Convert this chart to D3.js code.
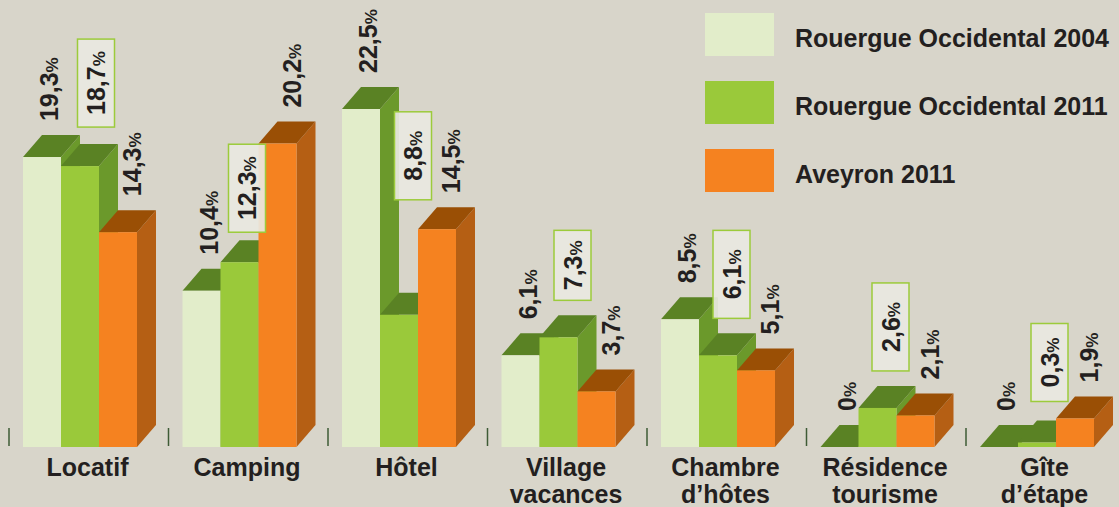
<!DOCTYPE html>
<html>
<head>
<meta charset="utf-8">
<script src="https://cdn.jsdelivr.net/npm/d3@7"></script>
<style>
  body { margin: 0; background: #d8d5ca; }
  svg { display: block; font-family: "Liberation Sans", Arial, sans-serif; font-weight: bold; }
</style>
</head>
<body>
<div id="chart"></div>
<script>
// Data
const categoryLines = [["Locatif"], ["Camping"], ["Hôtel"], ["Village", "vacances"],
  ["Chambre", "d’hôtes"], ["Résidence", "tourisme"], ["Gîte", "d’étape"]];
const seriesNames = ["Rouergue Occidental 2004", "Rouergue Occidental 2011", "Aveyron 2011"];
const ro2004 = [19.3, 10.4, 22.5, 6.1, 8.5, 0, 0];
const ro2011 = [18.7, 12.3, 8.8, 7.3, 6.1, 2.6, 0.3];
const av2011 = [14.3, 20.2, 14.5, 3.7, 5.1, 2.1, 1.9];

// label box tweaks for the boxed (2011) series
const boxLift = [39, 30, 115, 37, 37, 37, 41];
const boxHeight = [88, 88, 88, 70, 88, 88, 78];
const boxShift = [16, 7.5, 14, 14, 13.5, 13, 12.5];

const width = 1119, height = 507;
const baseY = 447;
const dx = 19, dy = 22;
const barW = 38;

const faces = [
  { front: "#e2edca", top: "#5a8224", side: "#6b992b" },
  { front: "#9ac93a", top: "#5a8224", side: "#6b992b" },
  { front: "#f58220", top: "#9a4f05", side: "#b55f14" }
];
const textColor = "#231f20";

const svg = d3.select("#chart").append("svg")
  .attr("width", width)
  .attr("height", height);

const cats = categoryLines.map(l => l.join(" "));
const x = d3.scaleBand().domain(cats).range([9, 9 + 7 * 159.5]);
const xs = d3.scaleBand().domain(seriesNames).range([14, 14 + 3 * barW]);
const y = d3.scaleLinear().domain([0, 22.5]).range([baseY, 109]);

const allSeries = [ro2004, ro2011, av2011];

const fmt = v => v === 0 ? "0" : d3.format(".1f")(v).replace(".", ",");

// tick marks
svg.append("g").selectAll("line")
  .data(cats)
  .join("line")
  .attr("x1", d => x(d)).attr("x2", d => x(d))
  .attr("y1", 428).attr("y2", baseY - 1)
  .attr("stroke", "#3e5b35")
  .attr("stroke-width", 1.5);

const bars = svg.append("g");
cats.forEach((c, ci) => {
  const g = bars.append("g");
  seriesNames.forEach((s, si) => {
    const v = allSeries[si][ci];
    const x0 = x(c) + xs(s);
    const t = y(v);
    const col = faces[si];
    // side
    g.append("polygon")
      .attr("points", [[x0 + barW, t], [x0 + barW + dx, t - dy], [x0 + barW + dx, baseY - dy], [x0 + barW, baseY]].join(" "))
      .attr("fill", col.side);
    // top
    g.append("polygon")
      .attr("points", [[x0, t], [x0 + dx, t - dy], [x0 + barW + dx, t - dy], [x0 + barW, t]].join(" "))
      .attr("fill", col.top);
    // front
    g.append("rect")
      .attr("x", x0).attr("y", t)
      .attr("width", barW).attr("height", baseY - t)
      .attr("fill", col.front);
  });
});

// value labels
function addValue(g, v, px, py, anchor) {
  const txt = g.append("text")
    .attr("transform", `translate(${px},${py}) rotate(-90)`)
    .attr("text-anchor", anchor)
    .attr("fill", textColor)
    .style("font-size", "25px");
  txt.append("tspan").text(fmt(v));
  txt.append("tspan").text("%").style("font-size", "17px");
}

const labels = svg.append("g");
cats.forEach((c, ci) => {
  // light + orange series: plain labels
  [0, 2].forEach(si => {
    const v = allSeries[si][ci];
    const cx = x(c) + xs(seriesNames[si]) + barW / 2;
    const off = si === 0 ? 16 : 23;
    addValue(labels, v, cx + off, y(v) - 36, "start");
  });
  // 2011 series: boxed label
  const v = ro2011[ci];
  const cx = x(c) + xs(seriesNames[1]) + barW / 2 + boxShift[ci];
  const bottom = y(v) - boxLift[ci];
  const h = boxHeight[ci];
  labels.append("rect")
    .attr("x", cx - 18.5).attr("y", bottom - h)
    .attr("width", 37).attr("height", h)
    .attr("fill", "#e9e8e1")
    .attr("fill-opacity", 0.92)
    .attr("stroke", "#9ccb3b")
    .attr("stroke-width", 1.5);
  addValue(labels, v, cx + 9, bottom - h / 2, "middle");
});

// category labels
svg.append("g").selectAll("text")
  .data(categoryLines)
  .join("text")
  .attr("x", (d, i) => x(cats[i]) + 78.5)
  .attr("y", 476)
  .attr("text-anchor", "middle")
  .attr("fill", textColor)
  .style("font-size", "25px")
  .selectAll("tspan")
  .data(d => d)
  .join("tspan")
  .attr("x", function () { return d3.select(this.parentNode).attr("x"); })
  .attr("dy", (d, i) => i === 0 ? 0 : 27)
  .text(d => d);

// legend
const legend = svg.append("g").attr("transform", "translate(705,13)");
seriesNames.forEach((s, i) => {
  const lg = legend.append("g").attr("transform", `translate(0,${i * 68})`);
  lg.append("rect").attr("width", 69).attr("height", 43).attr("fill", faces[i].front);
  lg.append("text").attr("x", 90).attr("y", 34)
    .attr("fill", textColor)
    .style("font-size", "25px")
    .text(s);
});
</script>
</body>
</html>
